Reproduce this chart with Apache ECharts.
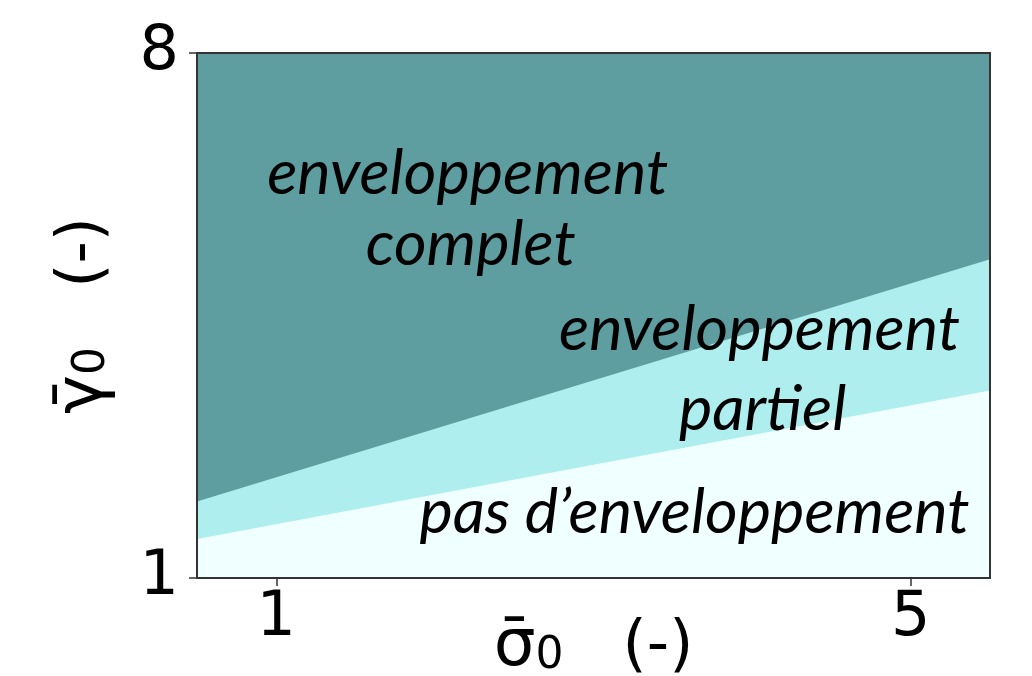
<!DOCTYPE html>
<html>
<head>
<meta charset="utf-8">
<script src="https://cdn.jsdelivr.net/npm/echarts@6/dist/echarts.min.js"></script>
<style>html,body{margin:0;padding:0;background:#fff}#c{width:1032px;height:676px}</style>
</head>
<body>
<div id="c"></div>
<script>
// boundary lines (x = sigma0, y = gamma0)
const boundaryX = [0.5, 5.5];
const upperBoundary = [2.02, 5.25];   // complet / partiel
const lowerBoundary = [1.52, 3.50];   // partiel / pas d'enveloppement
const xTicks = [1, 5];
const yTicks = [1, 8];
const annotTexts = ['enveloppement', 'complet', 'enveloppement', 'par\u200Ctiel', 'pas d\u2019enveloppement'];
const annotX = [2.21, 2.23, 4.05, 4.07, 3.64];
const annotY = [6.38, 5.44, 4.31, 3.24, 1.87];

const FONT = 'DejaVu Sans';
const chart = echarts.init(document.getElementById('c'));
const pairs = (ys) => boundaryX.map((x, i) => [x, ys[i]]);
const annotData = annotTexts.map((t, i) => ({ value: [annotX[i], annotY[i]], name: t }));
const spine = { show: true, onZero: false, lineStyle: { color: '#333', width: 2 } };

chart.setOption({
  animation: false,
  grid: { left: 197, right: 42, top: 53, bottom: 98, show: true, backgroundColor: '#F0FFFF', borderWidth: 0,
    outerBoundsMode: 'none', containLabel: false },
  xAxis: [{
    type: 'value', min: 0.5, max: 5.5, z: 10,
    splitLine: { show: false },
    axisLine: spine,
    axisTick: { show: true, length: 8, customValues: xTicks, lineStyle: { color: '#333', width: 1.5 } },
    axisLabel: { customValues: xTicks, fontFamily: FONT, fontSize: 62, color: '#000', margin: 10 },
    name: '{a|\u03C3\u0304}{s|0}   (-)', nameLocation: 'middle', nameGap: 37, nameMoveOverlap: false,
    nameTextStyle: { fontFamily: FONT, fontSize: 62, color: '#000',
      rich: { a: { fontFamily: FONT, fontSize: 66, color: '#000' }, s: { fontFamily: FONT, fontSize: 44, color: '#000', padding: [18, 0, 0, 0] } } }
  }, {
    type: 'value', min: 0.5, max: 5.5, z: 10, position: 'top',
    splitLine: { show: false }, axisLine: spine, axisTick: { show: false }, axisLabel: { show: false }
  }],
  yAxis: [{
    type: 'value', min: 1, max: 8, z: 10,
    splitLine: { show: false },
    axisLine: spine,
    axisTick: { show: true, length: 8, customValues: yTicks, lineStyle: { color: '#333', width: 1.5 } },
    axisLabel: { customValues: yTicks, fontFamily: FONT, fontSize: 62, color: '#000', margin: 18 },
    name: '{a|\u03B3\u0304}{s|0}   (-)', nameLocation: 'middle', nameRotate: 90, nameGap: 80, nameMoveOverlap: false,
    nameTextStyle: { fontFamily: FONT, fontSize: 62, color: '#000',
      rich: { a: { fontFamily: FONT, fontSize: 66, color: '#000' }, s: { fontFamily: FONT, fontSize: 44, color: '#000', padding: [18, 0, 0, 0] } } }
  }, {
    type: 'value', min: 1, max: 8, z: 10, position: 'right',
    splitLine: { show: false }, axisLine: spine, axisTick: { show: false }, axisLabel: { show: false }
  }],
  series: [
    { type: 'line', data: pairs(lowerBoundary), symbol: 'none', lineStyle: { width: 0 },
      areaStyle: { color: '#AFEEEE', opacity: 1, origin: 'end' }, z: 2 },
    { type: 'line', data: pairs(upperBoundary), symbol: 'none', lineStyle: { width: 0 },
      areaStyle: { color: '#5F9EA0', opacity: 1, origin: 'end' }, z: 3 },
    { type: 'scatter', data: annotData, symbolSize: 1, itemStyle: { opacity: 0 }, z: 5, silent: true,
      label: { show: true, position: [0, 0], align: 'center', verticalAlign: 'middle', formatter: (p) => p.name,
        fontFamily: 'Lato', fontStyle: 'italic', fontSize: 63, color: '#000', opacity: 1 } }
  ]
});
</script>
</body>
</html>
